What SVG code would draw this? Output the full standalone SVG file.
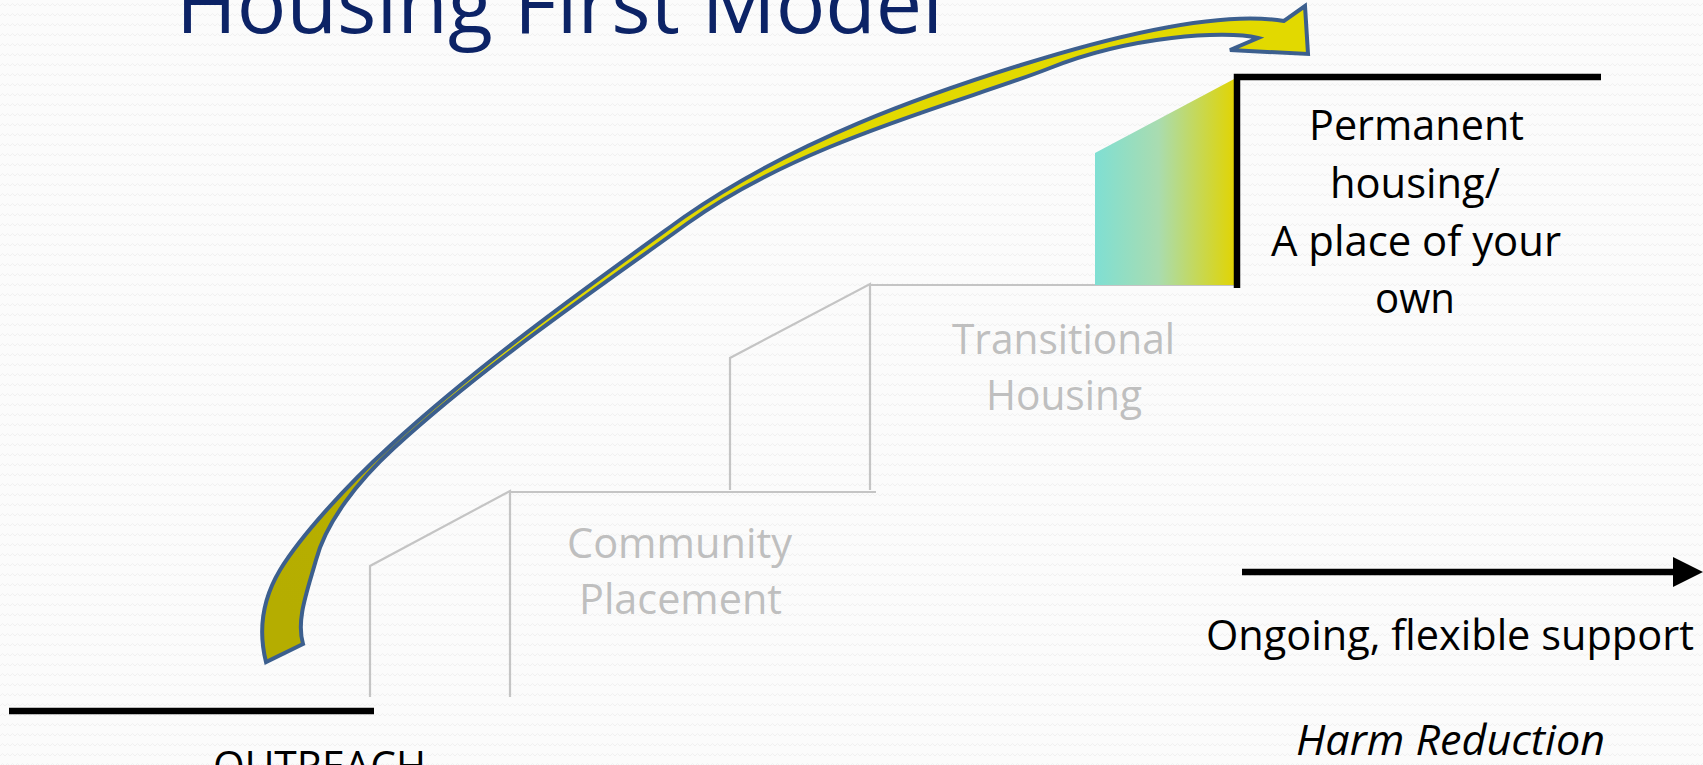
<svg xmlns="http://www.w3.org/2000/svg" width="1703" height="765" viewBox="0 0 1703 765">
  <defs>
    <pattern id="bgWave" x="0" y="0" width="10" height="10" patternUnits="userSpaceOnUse">
      <rect width="10" height="10" fill="#FBFBFB"/>
      <path d="M0,6 L2.5,3.5 L5,6 L7.5,3.5 L10,6" fill="none" stroke="#F0F0F0" stroke-width="1"/>
    </pattern>
    <linearGradient id="stepGrad" x1="1095" y1="0" x2="1236" y2="0" gradientUnits="userSpaceOnUse">
      <stop offset="0" stop-color="#7FDFD3"/>
      <stop offset="0.45" stop-color="#A9DCB0"/>
      <stop offset="1" stop-color="#E2D400"/>
    </linearGradient>
    <linearGradient id="arrowGrad" x1="300" y1="620" x2="560" y2="330" gradientUnits="userSpaceOnUse">
      <stop offset="0" stop-color="#B5AD00"/>
      <stop offset="0.5" stop-color="#B8B000"/>
      <stop offset="0.75" stop-color="#DDD500"/>
      <stop offset="1" stop-color="#E2D900"/>
    </linearGradient>
    <style>
      .title { font-family: "Open Sans", "Liberation Sans", sans-serif; font-size: 82px; fill: #0C2366; }
      .lbl { font-family: "Open Sans", "Liberation Sans", sans-serif; font-size: 42px; fill: #000000; }
      .gray { fill: #BFBFBF; }
      .ital { font-style: italic; }
      .gline { fill: none; stroke: #C4C4C4; stroke-width: 2.2; }
      .bline { fill: none; stroke: #000000; stroke-width: 6.5; stroke-linecap: butt; stroke-linejoin: miter; }
    </style>
  </defs>

  <rect id="background" x="0" y="0" width="1703" height="765" fill="url(#bgWave)"/>

  <g id="title">
    <text class="title" x="176" y="33" textLength="767" lengthAdjust="spacingAndGlyphs">Housing First Model</text>
  </g>

  <g id="node-outreach">
    <line class="bline" x1="9" y1="711" x2="374" y2="711"/>
    <text class="lbl" x="213" y="781" textLength="213" lengthAdjust="spacingAndGlyphs">OUTREACH</text>
  </g>

  <g id="node-community">
    <polyline class="gline" points="370,697 370,566 510,491 510,697"/>
    <line class="gline" x1="510" y1="492" x2="876" y2="492" stroke-width="3"/>
    <text class="lbl gray" x="567" y="558" textLength="225" lengthAdjust="spacingAndGlyphs">Community</text>
    <text class="lbl gray" x="579" y="614" textLength="203" lengthAdjust="spacingAndGlyphs">Placement</text>
  </g>

  <g id="node-transitional">
    <polyline class="gline" points="730,490 730,358 870,284 870,490"/>
    <line class="gline" x1="870" y1="285" x2="1236" y2="285" stroke-width="3"/>
    <text class="lbl gray" x="952" y="354" textLength="223" lengthAdjust="spacingAndGlyphs">Transitional</text>
    <text class="lbl gray" x="986" y="410" textLength="156" lengthAdjust="spacingAndGlyphs">Housing</text>
  </g>

  <g id="node-permanent">
    <polygon points="1095,153 1236,78 1236,285 1095,285" fill="url(#stepGrad)"/>
    <polyline class="bline" points="1237,288 1237,77 1601,77"/>
    <text class="lbl" x="1309" y="140" textLength="215" lengthAdjust="spacingAndGlyphs">Permanent</text>
    <text class="lbl" x="1330" y="198" textLength="170" lengthAdjust="spacingAndGlyphs">housing/</text>
    <text class="lbl" x="1271" y="256" textLength="290" lengthAdjust="spacingAndGlyphs">A place of your</text>
    <text class="lbl" x="1375" y="313" textLength="80" lengthAdjust="spacingAndGlyphs">own</text>
  </g>

  <g id="node-support">
    <text class="lbl" x="1206" y="650" textLength="488" lengthAdjust="spacingAndGlyphs">Ongoing, flexible support</text>
    <text class="lbl ital" x="1296" y="755" textLength="309" lengthAdjust="spacingAndGlyphs">Harm Reduction</text>
  </g>

  <g id="connectors">
    <path id="curved-arrow" d="M266,662 C258,630 262,600 280,570 C300,537 345,487 391,445 C483,361 590,285 684,217 C795,140 925,95 1021,65 C1117,35 1220,10 1284,21 L1305,6 L1308,54 L1230,50 L1258,38 C1225,30 1130,36 1050,68 C970,100 801,141 688,223 C594,291 486,364 394,448 C358,481 326,522 316,560 C307,592 296,620 303,644 Z" fill="url(#arrowGrad)" stroke="#3C5F8E" stroke-width="4" stroke-linejoin="miter"/>
    <line class="bline" x1="1242" y1="572" x2="1678" y2="572"/>
    <polygon points="1673,557 1703,572 1673,587" fill="#000000"/>
  </g>
</svg>
